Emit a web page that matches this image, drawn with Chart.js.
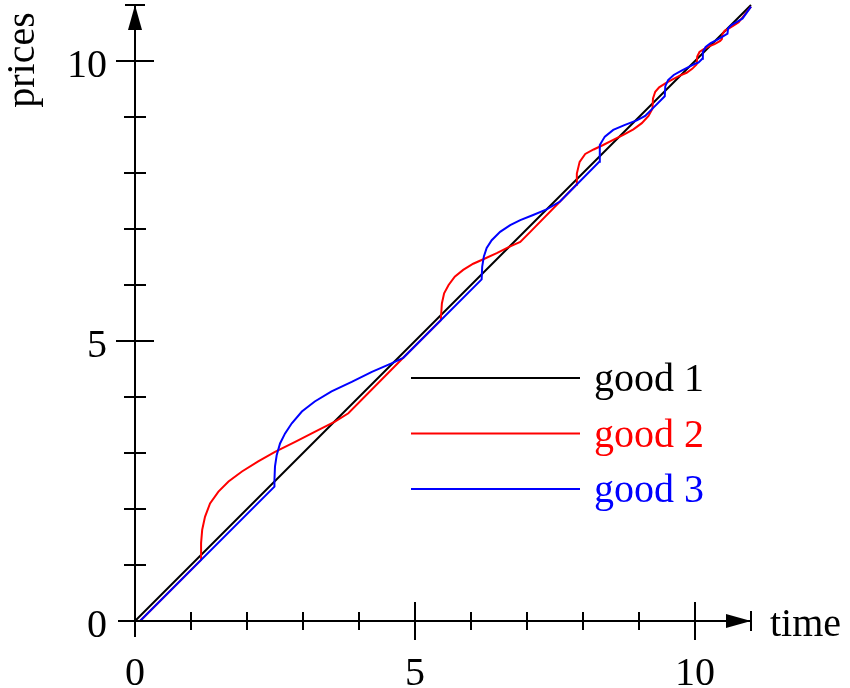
<!DOCTYPE html>
<html>
<head>
<meta charset="utf-8">
<script src="https://cdn.jsdelivr.net/npm/chart.js@4"></script>
<style>
  html, body { margin: 0; padding: 0; background: #fff; }
  #wrap { width: 850px; height: 688px; position: relative; }
</style>
</head>
<body>
<div id="wrap"><canvas id="chart"></canvas></div>
<script>
// prices of three goods over time
const good1 = [[0, 0], [11.0, 11.0]];

const good2 = [
  [0.09, 0], [1.18, 1.09], [1.18, 1.39], [1.20, 1.63], [1.25, 1.86], [1.34, 2.10], [1.49, 2.31],
  [1.67, 2.49], [1.91, 2.67], [2.20, 2.85], [2.50, 3.02], [2.86, 3.20], [3.27, 3.41], [3.57, 3.56],
  [3.81, 3.71], [4.79, 4.70], [5.46, 5.37], [5.48, 5.67], [5.52, 5.85], [5.60, 6.00], [5.71, 6.15],
  [5.86, 6.27], [6.04, 6.38], [6.22, 6.46], [6.46, 6.57], [6.70, 6.69], [6.88, 6.77], [7.05, 6.94],
  [7.59, 7.49], [7.88, 7.79], [7.89, 7.99], [7.94, 8.20], [8.04, 8.34], [8.19, 8.42], [8.36, 8.50],
  [8.54, 8.59], [8.72, 8.68], [8.90, 8.78], [9.05, 8.89], [9.17, 9.02], [9.24, 9.15], [9.25, 9.33],
  [9.29, 9.45], [9.36, 9.53], [9.47, 9.60], [9.60, 9.67], [9.73, 9.74], [9.85, 9.79], [9.95, 9.86],
  [10.03, 9.94], [10.04, 10.08], [10.08, 10.16], [10.15, 10.21], [10.25, 10.26], [10.35, 10.30],
  [10.45, 10.36], [10.48, 10.39], [10.49, 10.48], [10.53, 10.54], [10.60, 10.58], [10.70, 10.64],
  [10.78, 10.69], [11.0, 10.97]
];

const good3 = [
  [0.09, 0], [2.49, 2.40], [2.49, 2.52], [2.50, 2.76], [2.53, 2.96], [2.59, 3.17], [2.68, 3.35],
  [2.80, 3.53], [2.98, 3.74], [3.21, 3.92], [3.51, 4.10], [3.87, 4.27], [4.23, 4.45], [4.58, 4.60],
  [4.79, 4.70], [6.19, 6.10], [6.20, 6.33], [6.23, 6.51], [6.28, 6.66], [6.37, 6.80], [6.52, 6.95],
  [6.70, 7.07], [6.88, 7.16], [7.11, 7.25], [7.35, 7.35], [7.59, 7.49], [8.29, 8.20], [8.30, 8.50],
  [8.39, 8.65], [8.54, 8.77], [8.75, 8.86], [8.96, 8.94], [9.11, 9.02], [9.20, 9.11], [9.46, 9.37],
  [9.47, 9.55], [9.52, 9.66], [9.62, 9.75], [9.76, 9.83], [9.90, 9.90], [10.0, 9.95], [10.06, 9.97],
  [10.13, 10.04], [10.14, 10.16], [10.19, 10.25], [10.28, 10.32], [10.40, 10.38], [10.50, 10.44],
  [10.58, 10.49], [10.59, 10.58], [10.65, 10.64], [10.75, 10.70], [10.85, 10.76], [11.0, 10.97]
];

const seriesNames = ['good 1', 'good 2', 'good 3'];
const seriesColors = ['#000000', '#ff0000', '#0000ff'];

// axis ticks
const xLabelTicks = [0, 5, 10];
const yLabelTicks = [0, 5, 10];
const xMinorTicks = [1, 2, 3, 4, 6, 7, 8, 9];
const yMinorTicks = [1, 2, 3, 4, 6, 7, 8, 9];
const xMajorTicks = [5, 10];
const yMajorTicks = [5, 10];
const xTitle = 'time';
const yTitle = 'prices';

const FONT = '40px "Liberation Serif", "Times New Roman", serif';

const toPts = arr => arr.map(p => ({ x: p[0], y: p[1] }));

// axes, arrows, tick labels and the legend
const axesPlugin = {
  id: 'axes',
  afterDatasetsDraw(chart) {
    const c = chart.ctx;
    const xs = chart.scales.x, ys = chart.scales.y;
    const x0 = xs.getPixelForValue(0), y0 = ys.getPixelForValue(0);
    const xEnd = xs.getPixelForValue(11), yEnd = ys.getPixelForValue(11);
    c.save();
    c.strokeStyle = '#000';
    c.fillStyle = '#000';
    c.lineWidth = 2;

    // axis lines
    c.beginPath();
    c.moveTo(x0 - 17, y0); c.lineTo(xEnd, y0);
    c.moveTo(x0, y0 + 16); c.lineTo(x0, yEnd);
    c.stroke();

    // arrow heads with bar
    c.beginPath();
    c.moveTo(xEnd, y0); c.lineTo(xEnd - 25, y0 - 7); c.lineTo(xEnd - 25, y0 + 7); c.closePath();
    c.fill();
    c.beginPath();
    c.moveTo(xEnd, y0 - 10); c.lineTo(xEnd, y0 + 10);
    c.stroke();
    c.beginPath();
    c.moveTo(x0, yEnd); c.lineTo(x0 - 7, yEnd + 25); c.lineTo(x0 + 7, yEnd + 25); c.closePath();
    c.fill();
    c.beginPath();
    c.moveTo(x0 - 10, yEnd); c.lineTo(x0 + 10, yEnd);
    c.stroke();

    // ticks
    c.beginPath();
    xMinorTicks.forEach(v => { const p = xs.getPixelForValue(v); c.moveTo(p, y0 - 9); c.lineTo(p, y0 + 9); });
    xMajorTicks.forEach(v => { const p = xs.getPixelForValue(v); c.moveTo(p, y0 - 19); c.lineTo(p, y0 + 19); });
    yMinorTicks.forEach(v => { const p = ys.getPixelForValue(v); c.moveTo(x0 - 11, p); c.lineTo(x0 + 11, p); });
    yMajorTicks.forEach(v => { const p = ys.getPixelForValue(v); c.moveTo(x0 - 19, p); c.lineTo(x0 + 19, p); });
    c.stroke();

    // tick labels
    c.font = FONT;
    c.textBaseline = 'alphabetic';
    c.textAlign = 'center';
    xLabelTicks.forEach(v => c.fillText(String(v), xs.getPixelForValue(v), y0 + 64));
    c.textAlign = 'right';
    yLabelTicks.forEach(v => c.fillText(String(v), x0 - 28, ys.getPixelForValue(v) + 16));

    // axis titles
    c.textAlign = 'left';
    c.fillText(xTitle, xEnd + 19, y0 + 15);
    c.save();
    c.translate(34, 60);
    c.rotate(-Math.PI / 2);
    c.textAlign = 'center';
    c.fillText(yTitle, 0, 0);
    c.restore();

    // legend
    seriesNames.forEach((name, i) => {
      const ly = 378 + i * 55.5;
      c.strokeStyle = seriesColors[i];
      c.lineWidth = 2;
      c.beginPath(); c.moveTo(411, ly); c.lineTo(580, ly); c.stroke();
      c.fillStyle = seriesColors[i];
      c.textAlign = 'left';
      c.fillText(name, 594, ly + 13);
    });
    c.restore();
  }
};

const datasets = [good1, good2, good3].map((d, i) => ({
  label: seriesNames[i],
  data: toPts(d),
  borderColor: seriesColors[i],
  backgroundColor: seriesColors[i],
  borderWidth: 2,
  pointRadius: 0,
  tension: 0,
  fill: false,
  showLine: true,
  order: 2 - i
}));

new Chart(document.getElementById('chart'), {
  type: 'scatter',
  data: { datasets },
  options: {
    responsive: true,
    maintainAspectRatio: false,
    animation: false,
    devicePixelRatio: 1,
    layout: { padding: 0 },
    scales: {
      x: { type: 'linear', display: false, min: -135 / 56, max: (850 - 135) / 56 },
      y: { type: 'linear', display: false, min: -(688 - 621) / 56, max: 621 / 56 }
    },
    plugins: { legend: { display: false }, tooltip: { enabled: false } }
  },
  plugins: [axesPlugin]
});
</script>
</body>
</html>
